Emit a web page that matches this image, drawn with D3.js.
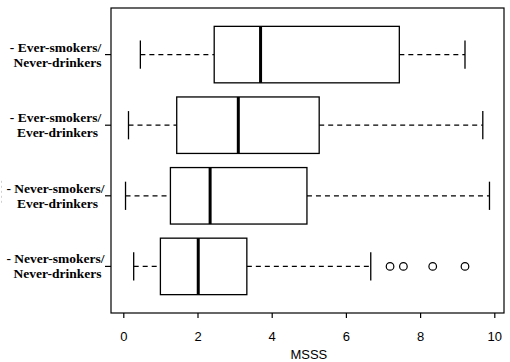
<!DOCTYPE html>
<html>
<head>
<meta charset="utf-8">
<script src="https://cdn.jsdelivr.net/npm/d3@7"></script>
<style>
  body { margin: 0; background: #fff; }
  svg { display: block; }
</style>
</head>
<body>
<div class="chart"></div>
<script>

// Groups, from top to bottom as drawn
var groups = ["Ever-smokers/Never-drinkers", "Ever-smokers/Ever-drinkers",
              "Never-smokers/Ever-drinkers", "Never-smokers/Never-drinkers"];
var labelLine1 = ["- Ever-smokers/", "- Ever-smokers/", "- Never-smokers/", "- Never-smokers/"];
var labelLine2 = ["Never-drinkers", "Ever-drinkers", "Ever-drinkers", "Never-drinkers"];

// Five number summaries
var whiskerLow  = [0.46, 0.14, 0.06, 0.28];
var q1          = [2.45, 1.44, 1.27, 1.00];
var medians     = [3.70, 3.10, 2.34, 2.02];
var q3          = [7.44, 5.28, 4.95, 3.33];
var whiskerHigh = [9.21, 9.69, 9.87, 6.67];

// Outliers (group index, value)
var outliers = [[3, 7.19], [3, 7.55], [3, 8.34], [3, 9.21]];

var xTicks = [0, 2, 4, 6, 8, 10];

var width = 510, height = 362;
var plot = { left: 111, right: 504, top: 8, bottom: 313 };

var svg = d3.select(".chart")
    .append("svg")
        .attr("width", width)
        .attr("height", height);

// x: R style, 4% padding around the data range
var x = d3.scaleLinear()
    .domain([0, 10])
    .range([123.3, 494.3]);

// y: groups at 1..4 (bottom to top), limits 0.34..4.66 like R
var y = d3.scaleLinear()
    .domain([0.34, 4.66])
    .range([plot.bottom, plot.top]);

function pos(i) { return y(groups.length - i); }

var halfBox = (y(0) - y(0.4));
var halfCap = halfBox / 2;

// Plot frame
svg.append("rect")
    .attr("x", plot.left)
    .attr("y", plot.top)
    .attr("width", plot.right - plot.left)
    .attr("height", plot.bottom - plot.top)
    .attr("fill", "none")
    .attr("stroke", "#000")
    .attr("stroke-width", 1.2);

// Bottom axis
var xAxis = d3.axisBottom(x)
    .tickValues(xTicks)
    .tickFormat(d3.format("d"))
    .tickSize(5)
    .tickPadding(14);

var gx = svg.append("g")
    .attr("class", "xAxis")
    .attr("transform", "translate(0," + plot.bottom + ")")
    .call(xAxis);

gx.select(".domain").remove();
gx.selectAll("line").attr("stroke", "#000").attr("stroke-width", 1.2);
gx.selectAll("text")
    .attr("font-family", "Liberation Sans, Arial, sans-serif")
    .attr("font-size", 13)
    .attr("fill", "#000");

svg.append("text")
    .attr("x", x(5))
    .attr("y", 359)
    .attr("text-anchor", "middle")
    .attr("font-family", "Liberation Sans, Arial, sans-serif")
    .attr("font-size", 13)
    .text("MSSS");

// Boxes
var g = svg.selectAll(".box")
    .data(groups)
    .enter().append("g")
        .attr("class", "box");

// Left ticks
g.append("line")
    .attr("x1", plot.left - 6)
    .attr("x2", plot.left)
    .attr("y1", function(d, i) { return pos(i); })
    .attr("y2", function(d, i) { return pos(i); })
    .attr("stroke", "#000")
    .attr("stroke-width", 1.2);

// Whiskers (dashed)
g.append("line")
    .attr("x1", function(d, i) { return x(whiskerLow[i]); })
    .attr("x2", function(d, i) { return x(q1[i]); })
    .attr("y1", function(d, i) { return pos(i); })
    .attr("y2", function(d, i) { return pos(i); })
    .attr("stroke", "#000")
    .attr("stroke-width", 1.2)
    .attr("stroke-dasharray", "5,4");

g.append("line")
    .attr("x1", function(d, i) { return x(q3[i]); })
    .attr("x2", function(d, i) { return x(whiskerHigh[i]); })
    .attr("y1", function(d, i) { return pos(i); })
    .attr("y2", function(d, i) { return pos(i); })
    .attr("stroke", "#000")
    .attr("stroke-width", 1.2)
    .attr("stroke-dasharray", "5,4");

// Staples
[whiskerLow, whiskerHigh].forEach(function(arr) {
    g.append("line")
        .attr("x1", function(d, i) { return x(arr[i]); })
        .attr("x2", function(d, i) { return x(arr[i]); })
        .attr("y1", function(d, i) { return pos(i) - halfCap; })
        .attr("y2", function(d, i) { return pos(i) + halfCap; })
        .attr("stroke", "#000")
        .attr("stroke-width", 1.3);
});

g.append("rect")
    .attr("x", function(d, i) { return x(q1[i]); })
    .attr("y", function(d, i) { return pos(i) - halfBox; })
    .attr("width", function(d, i) { return x(q3[i]) - x(q1[i]); })
    .attr("height", halfBox * 2)
    .attr("fill", "#fff")
    .attr("stroke", "#000")
    .attr("stroke-width", 1.3);

g.append("line")
    .attr("x1", function(d, i) { return x(medians[i]); })
    .attr("x2", function(d, i) { return x(medians[i]); })
    .attr("y1", function(d, i) { return pos(i) - halfBox; })
    .attr("y2", function(d, i) { return pos(i) + halfBox; })
    .attr("stroke", "#000")
    .attr("stroke-width", 3);

// Outlier circles
svg.selectAll(".outlier")
    .data(outliers)
    .enter().append("circle")
        .attr("class", "outlier")
        .attr("cx", function(d) { return x(d[1]); })
        .attr("cy", function(d) { return pos(d[0]); })
        .attr("r", 3.8)
        .attr("fill", "none")
        .attr("stroke", "#000")
        .attr("stroke-width", 1.2);

// Group labels, two lines each, bold serif
var lab = svg.selectAll(".label")
    .data(groups)
    .enter().append("text")
        .attr("class", "label")
        .attr("font-family", "Liberation Serif, Times New Roman, serif")
        .attr("font-weight", "bold")
        .attr("font-size", 13.5)
        .attr("text-anchor", "middle")
        .attr("fill", "#000");

lab.append("tspan")
    .attr("x", 55.5)
    .attr("y", function(d, i) { return pos(i) - 3; })
    .text(function(d, i) { return labelLine1[i]; });

lab.append("tspan")
    .attr("x", 57.5)
    .attr("y", function(d, i) { return pos(i) + 12; })
    .text(function(d, i) { return labelLine2[i]; });

// faint scan artefact left of the third label
svg.append("line")
    .attr("x1", 1.5).attr("x2", 1.5)
    .attr("y1", pos(2) - 15).attr("y2", pos(2) + 10)
    .attr("stroke", "#d0d0d0")
    .attr("stroke-dasharray", "2,3");

</script>
</body>
</html>
